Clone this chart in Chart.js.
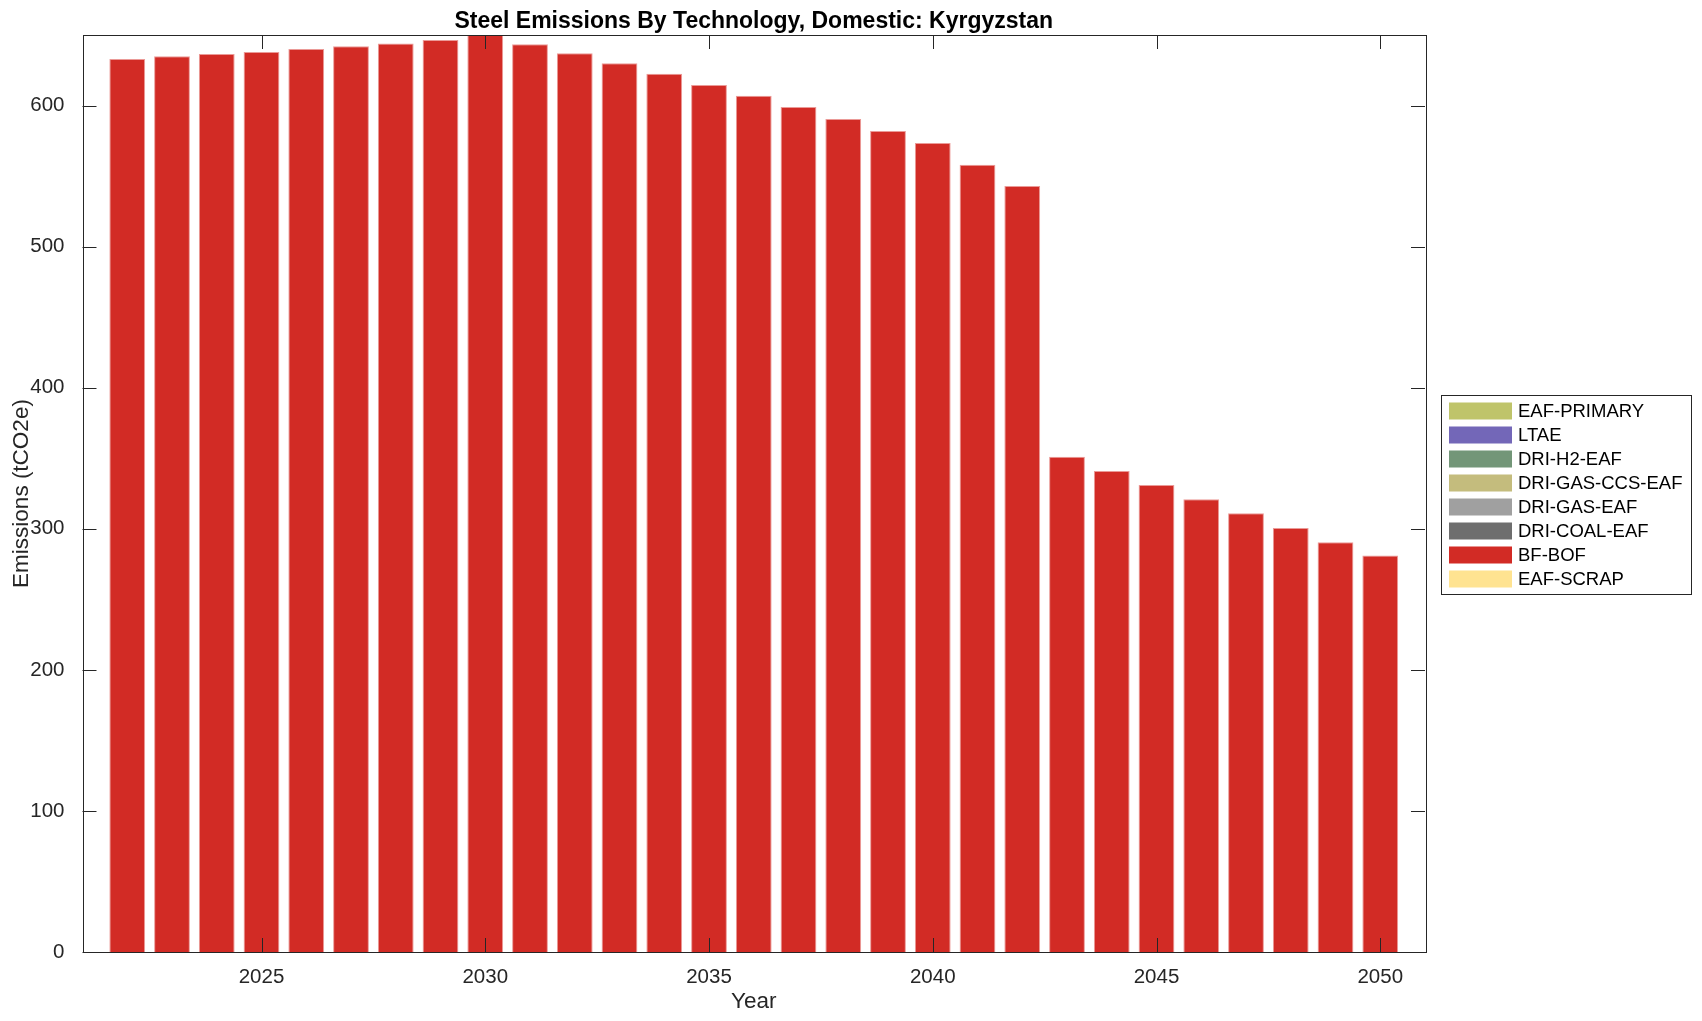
<!DOCTYPE html>
<html>
<head>
<meta charset="utf-8">
<script src="https://cdn.jsdelivr.net/npm/chart.js@4.4.1/dist/chart.umd.min.js"></script>
<style>
  html, body { margin: 0; padding: 0; background: #ffffff; }
  #wrap { width: 1702px; height: 1021px; }
</style>
</head>
<body>
<div id="wrap"><canvas id="chart" width="1702" height="1021"></canvas></div>
<script>
// data
const years = [2022, 2023, 2024, 2025, 2026, 2027, 2028, 2029, 2030, 2031, 2032, 2033, 2034, 2035,
  2036, 2037, 2038, 2039, 2040, 2041, 2042, 2043, 2044, 2045, 2046, 2047, 2048, 2049, 2050];
const bfBof = [633, 635, 636.5, 638, 640, 642, 644, 646.5, 650, 643.5, 637, 630, 622.5, 614.5,
  607, 599, 590.5, 582, 573.5, 558, 543, 351, 341, 331, 321, 311, 300.5, 290.5, 281];
const noEmissions = [0, 0, 0, 0, 0, 0, 0, 0, 0, 0, 0, 0, 0, 0, 0, 0, 0, 0, 0, 0, 0, 0, 0, 0, 0, 0, 0, 0, 0];
const technologies = ["EAF-PRIMARY", "LTAE", "DRI-H2-EAF", "DRI-GAS-CCS-EAF", "DRI-GAS-EAF",
  "DRI-COAL-EAF", "BF-BOF", "EAF-SCRAP"];
const xTicks = [2025, 2030, 2035, 2040, 2045, 2050];
const yTicks = [0, 100, 200, 300, 400, 500, 600];

const techColors = ["#bfc46a", "#7367b8", "#739678", "#c4bc7d", "#a0a0a0", "#6e6e6e", "#d22b25", "#ffe391"];
const axisColor = "#262626";
const fontFamily = "'Liberation Sans', Arial, Helvetica, sans-serif";

const datasets = technologies.map((name, i) => ({
  label: name,
  data: years.map((yr, j) => ({ x: yr, y: name === "BF-BOF" ? bfBof[j] : noEmissions[j] })),
  backgroundColor: techColors[i],
  borderColor: name === "BF-BOF" ? "#eb9a97" : techColors[i],
  borderWidth: name === "BF-BOF" ? 1 : 0,
  barPercentage: 0.8,
  categoryPercentage: 1.0,
}));

// frame, inward ticks, title and legend drawn MATLAB-style
const matlabAxes = {
  id: "matlabAxes",
  afterDraw(chart) {
    const { ctx, chartArea: a, scales } = chart;
    const tick = 14;
    ctx.save();
    ctx.strokeStyle = axisColor;
    ctx.lineWidth = 1;
    ctx.beginPath();
    xTicks.forEach((v) => {
      const px = Math.round(scales.x.getPixelForValue(v)) + 0.5;
      ctx.moveTo(px, a.bottom); ctx.lineTo(px, a.bottom - tick);
      ctx.moveTo(px, a.top); ctx.lineTo(px, a.top + tick);
    });
    yTicks.forEach((v) => {
      const py = Math.round(scales.y.getPixelForValue(v)) + 0.5;
      ctx.moveTo(a.left, py); ctx.lineTo(a.left + tick, py);
      ctx.moveTo(a.right, py); ctx.lineTo(a.right - tick, py);
    });
    ctx.stroke();
    ctx.strokeRect(Math.round(a.left) + 0.5, Math.round(a.top) + 0.5,
      Math.round(a.right - a.left), Math.round(a.bottom - a.top));

    // title
    ctx.fillStyle = "#000000";
    ctx.font = "bold 23px " + fontFamily;
    ctx.textAlign = "center";
    ctx.textBaseline = "alphabetic";
    ctx.fillText("Steel Emissions By Technology, Domestic: Kyrgyzstan", (a.left + a.right) / 2, 27.5);

    // legend
    const lx = 1441, ly = 395, lw = 250, lh = 199;
    ctx.fillStyle = "#ffffff";
    ctx.fillRect(lx, ly, lw, lh);
    ctx.strokeStyle = axisColor;
    ctx.strokeRect(lx + 0.5, ly + 0.5, lw, lh);
    ctx.font = "18.5px " + fontFamily;
    ctx.textAlign = "left";
    ctx.textBaseline = "middle";
    chart.data.datasets.forEach((ds, i) => {
      const cy = 411 + i * 24;
      ctx.fillStyle = ds.backgroundColor;
      ctx.fillRect(1449, cy - 8.5, 63, 17);
      ctx.fillStyle = "#000000";
      ctx.fillText(ds.label, 1518, cy + 1);
    });
    ctx.restore();
  },
};

new Chart(document.getElementById("chart").getContext("2d"), {
  type: "bar",
  data: { datasets },
  options: {
    responsive: false,
    animation: false,
    layout: { padding: { left: 0, right: 277, top: 35, bottom: 0 } },
    plugins: {
      legend: { display: false },
      title: { display: false },
      tooltip: { enabled: false },
    },
    scales: {
      x: {
        type: "linear",
        stacked: true,
        offset: false,
        min: 2021,
        max: 2051,
        grid: { display: false },
        border: { display: false },
        afterBuildTicks: (scale) => { scale.ticks = xTicks.map((v) => ({ value: v })); },
        ticks: {
          padding: 5,
          color: axisColor,
          font: { family: fontFamily, size: 20.5 },
          maxRotation: 0,
          autoSkip: false,
          callback: (v) => String(v),
        },
        title: {
          display: true,
          text: "Year",
          color: axisColor,
          font: { family: fontFamily, size: 22.5 },
          padding: { top: 0, bottom: 6 },
        },
        afterFit: (scale) => { scale.height = 69; },
      },
      y: {
        stacked: true,
        min: 0,
        max: 650,
        grid: { display: false },
        border: { display: false },
        afterBuildTicks: (scale) => { scale.ticks = yTicks.map((v) => ({ value: v })); },
        ticks: {
          padding: 10,
          color: axisColor,
          font: { family: fontFamily, size: 20.5 },
        },
        title: {
          display: true,
          text: "Emissions (tCO2e)",
          color: axisColor,
          font: { family: fontFamily, size: 22.5 },
          padding: { top: 8, bottom: 0 },
        },
        afterFit: (scale) => { scale.width = 82.5; },
      },
    },
  },
  plugins: [matlabAxes],
});
</script>
</body>
</html>
